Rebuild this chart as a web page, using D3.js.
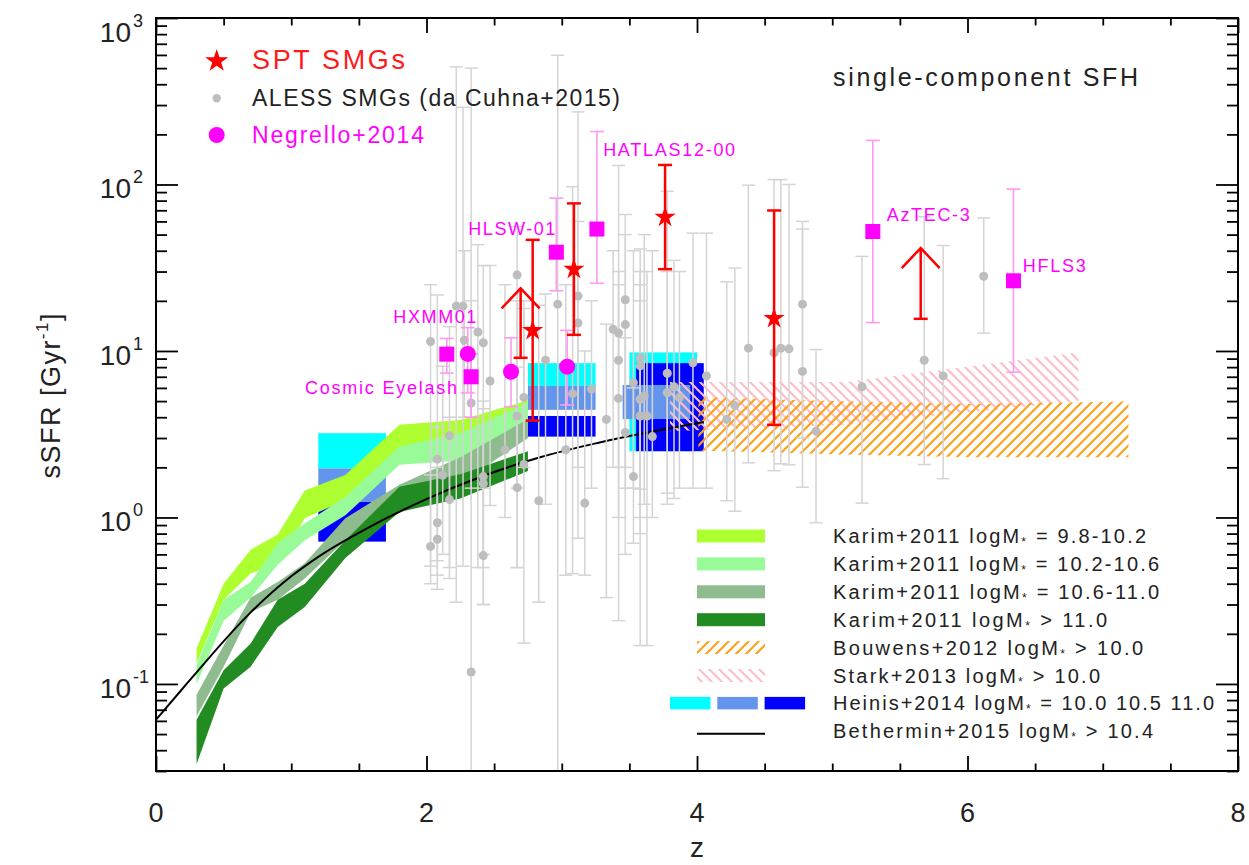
<!DOCTYPE html>
<html>
<head>
<meta charset="utf-8">
<script src="https://cdn.jsdelivr.net/npm/d3@7"></script>
<style>
body { margin: 0; background: #fff; }
svg { display: block; font-family: "Liberation Sans", Arial, Helvetica, sans-serif; }
</style>
</head>
<body>
<svg id="chart"></svg>
<script>
// ---- data ----
// Karim+2011 bands (z bin centres, lower/upper sSFR)
var karimZ = [0.3, 0.5, 0.7, 0.9, 1.1, 1.4, 1.8, 2.25, 2.75];
var karimLo1 = [0.133, 0.32, 0.46, 0.53, 0.99, 1.27, 2.6, 2.45, 4.2];
var karimHi1 = [0.164, 0.40, 0.64, 0.79, 1.45, 1.80, 3.6, 3.85, 5.05];
var karimLo2 = [0.10, 0.24, 0.33, 0.52, 0.73, 1.03, 2.07, 2.2, 3.55];
var karimHi2 = [0.13, 0.32, 0.41, 0.70, 0.92, 1.33, 2.67, 3.2, 4.9];
var karimLo3 = [0.064, 0.127, 0.27, 0.32, 0.43, 0.73, 1.16, 1.6, 3.0];
var karimHi3 = [0.086, 0.17, 0.33, 0.41, 0.53, 0.99, 1.57, 2.3, 3.9];
var karimLo4 = [0.033, 0.094, 0.127, 0.22, 0.29, 0.57, 1.08, 1.3, 1.9];
var karimHi4 = [0.061, 0.121, 0.175, 0.32, 0.40, 0.73, 1.53, 1.82, 2.5];

// Heinis+2014 boxes: left edge z, lower/upper sSFR (10.0, 10.5, 11.0)
var heinisZ0 = [1.2, 2.75, 3.5], heinisLo0 = [1.97, 6.17, 2.5], heinisHi0 = [3.21, 8.45, 9.8];
var heinisZ1 = [1.2, 2.75, 3.45], heinisLo1 = [1.245, 4.43, 3.9], heinisHi1 = [1.97, 6.17, 6.25];
var heinisZ2 = [1.2, 2.75, 3.55], heinisLo2 = [0.716, 3.06, 2.5], heinisHi2 = [1.245, 4.07, 8.45];
var heinisWidth = 0.5;

// Bouwens+2012 and Stark+2013 hatched regions
var bouwensZ = [4.01, 5.0, 6.0, 7.19], bouwensLo = [2.52, 2.4, 2.3, 2.3], bouwensHi = [5.3, 5.0, 4.8, 4.97];
var starkZ = [3.8, 5.1, 6.82], starkLo = [3.3, 3.6, 5.0], starkHi = [6.5, 6.5, 9.8];

// Bethermin+2015 model
var bethZ = [0, 0.18, 0.3, 0.7, 1.0, 1.2, 1.56, 2.0, 2.4, 2.84, 3.28, 4.05];
var bethS = [0.061, 0.0904, 0.1175, 0.269, 0.443, 0.58, 0.86, 1.29, 1.75, 2.3, 2.82, 3.74];

// ALESS SMGs (da Cunha+2015)
var alessZ = [2.03, 2.08, 2.08, 2.08, 2.03, 2.12, 2.17, 2.17, 2.22, 2.27,
  2.28, 2.33, 2.33, 2.38, 2.42, 2.42, 2.42, 2.42, 2.47, 2.58,
  2.67, 2.67, 2.72, 2.72, 2.83, 2.88, 2.97, 3.03, 3.08, 3.12,
  3.12, 3.17, 3.22, 3.33, 3.38, 3.42, 3.42, 3.42, 3.47, 3.47,
  3.53, 3.53, 3.58, 3.58, 3.58, 3.61, 3.58, 3.63, 3.67, 3.78,
  3.78, 3.83, 3.97, 4.07, 4.22, 4.28, 4.38, 4.57, 4.62, 4.68,
  4.78, 4.78, 4.88, 5.22, 5.68, 5.82, 6.12, 3.87, 3.47, 2.67];
var alessS = [11.4, 2.24, 0.93, 0.74, 0.67, 1.79, 3.1, 1.28, 18.6, 18.6,
  11.6, 4.87, 0.118, 13.0, 11.2, 1.76, 1.60, 0.59, 6.6, 2.55,
  28.6, 1.51, 2.08, 5.26, 1.26, 8.8, 19.1, 2.55, 5.54, 21.4,
  14.7, 1.22, 5.9, 3.88, 13.5, 12.8, 8.8, 5.19, 20.3, 14.4,
  1.76, 6.46, 9.1, 8.15, 5.13, 5.36, 4.07, 4.07, 3.06, 7.35,
  5.61, 6.1, 8.5, 7.08, 3.88, 4.71, 10.4, 9.75, 10.4, 10.3,
  19.1, 7.54, 3.3, 6.1, 8.8, 7.08, 28.1, 5.25, 3.24, 4.07];
var alessLo = [0.51, 0.37, 0.55, 0.45, 0.40, 0.6, 0.43, 0.5, 0.31, 0.51,
  4.0, 1.5, 0.01, 0.5, 0.30, 0.6, 0.5, 0.3, 1.18, 1.0,
  0.5, 0.5, 0.176, 2.0, 0.31, 1.2, 0.01, 0.45, 0.46, 0.75,
  2.0, 0.45, 1.5, 0.33, 2.0, 0.24, 2.0, 1.0, 1.5, 2.0,
  0.7, 1.5, 1.48, 1.0, 0.17, 1.2, 0.8, 0.17, 1.0, 1.4,
  1.2, 1.3, 1.5, 1.5, 1.26, 1.09, 2.13, 1.91, 2.1, 2.07,
  3.0, 1.52, 0.93, 1.22, 2.08, 1.71, 12.8, 1.5, 0.6, 1.5];
var alessHi = [25, 21.7, 3.5, 2.0, 1.8, 8.1, 14, 4.0, 509, 291,
  40, 20, 500, 43.5, 32.6, 5, 4.5, 1.5, 32.6, 25,
  56, 8, 20, 18, 18.8, 22, 598, 25, 97, 273,
  60, 10, 20, 14.5, 40, 130, 30, 25, 66, 50,
  6, 40, 41, 30, 25, 50, 20, 30, 40, 91,
  30, 35, 51, 51, 26, 31.5, 99, 107, 107, 100,
  60, 54, 10.2, 37, 64, 43, 63, 30, 12, 20];

// Negrello+2014 lensed SMGs (squares and circles)
var negSqZ = [2.15, 2.33, 2.96, 3.26, 5.30, 6.34];
var negSqS = [9.57, 7.0, 39.2, 54, 52.2, 26.4];
var negSqLo = [7.36, 4.0, 23, 25.5, 14.8, 7.46];
var negSqHi = [11.9, 9.6, 82.8, 208, 184, 93.8];
var negCiZ = [2.305, 2.625, 3.04];
var negCiS = [9.6, 7.5, 8.05];
var negCiLo = [5.6, 4.63, 4.74];
var negCiHi = [13.8, 12.0, 13.3];
var nameText = ["HATLAS12-00", "HLSW-01", "HXMM01", "Cosmic Eyelash", "AzTEC-3", "HFLS3"];
var nameZ = [3.306, 2.309, 1.755, 1.102, 5.403, 6.408];
var nameS = [149, 49.9, 14.8, 5.5, 60, 29.8];
var nameLen = [132, 87, 83, 152, 83, 63];

// SPT SMGs
var sptZ = [2.785, 3.09, 3.764, 4.57];
var sptS = [13.3, 31, 63.7, 15.7];
var sptLo = [3.82, 12.5, 31, 3.6];
var sptHi = [46.5, 77, 131, 69.8];
var limZ = [2.696, 5.654];
var limBase = [9.1, 15.6];
var limHead = [23.8, 41.5];

// axes
var xMajorTicks = [0, 2, 4, 6, 8];
var xMinorTicks = [0.5, 1, 1.5, 2.5, 3, 3.5, 4.5, 5, 5.5, 6.5, 7, 7.5];
var yMajorTicks = [0.1, 1, 10, 100, 1000];
var yExponents = ["-1", "0", "1", "2", "3"];

// legend
var legendText = [
  ["Karim+2011 logM", " = 9.8-10.2"],
  ["Karim+2011 logM", " = 10.2-10.6"],
  ["Karim+2011 logM", " = 10.6-11.0"],
  ["Karim+2011 logM", " > 11.0"],
  ["Bouwens+2012 logM", " > 10.0"],
  ["Stark+2013 logM", " > 10.0"],
  ["Heinis+2014 logM", " = 10.0 10.5 11.0"],
  ["Bethermin+2015 logM", " > 10.4"]];
var legendLen = [313, 326, 326, 274, 310, 267, 381, 320];

// ---- drawing ----
var margin = {top: 18, right: 11, bottom: 94, left: 156},
	width = 1249 - margin.left - margin.right,
	height = 865 - margin.top - margin.bottom;

var x = d3.scaleLinear().domain([0, 8]).range([0, width]);
var y = d3.scaleLog().domain([0.03, 1000]).range([height, 0]);

var svg = d3.select("#chart").attr("width", 1249).attr("height", 865);
var defs = svg.append("defs");
defs.append("clipPath").attr("id", "plotclip")
	.append("rect").attr("width", width).attr("height", height);

var po = defs.append("pattern").attr("id", "hatchOrange")
	.attr("patternUnits", "userSpaceOnUse").attr("width", 10).attr("height", 10);
po.append("path").attr("d", "M-2,2L2,-2M0,10L10,0M8,12L12,8")
	.attr("stroke", "#ffa21a").attr("stroke-width", 2.2);
var pp = defs.append("pattern").attr("id", "hatchPink")
	.attr("patternUnits", "userSpaceOnUse").attr("width", 10).attr("height", 10);
pp.append("path").attr("d", "M-2,8L2,12M0,0L10,10M8,-2L12,2")
	.attr("stroke", "#ffbcc6").attr("stroke-width", 2);

var g = svg.append("g")
	.attr("transform", "translate(" + margin.left + "," + margin.top + ")");
var plot = g.append("g").attr("clip-path", "url(#plotclip)");

// Heinis boxes
var heinis = [
	{z: heinisZ0, lo: heinisLo0, hi: heinisHi0, color: "#00ffff"},
	{z: heinisZ2, lo: heinisLo2, hi: heinisHi2, color: "#0000ff"},
	{z: heinisZ1, lo: heinisLo1, hi: heinisHi1, color: "#6495ed"}];
heinis.forEach(function(h) {
	plot.selectAll(null)
		.data(d3.range(h.z.length))
		.enter().append("rect")
		.attr("x", function(i) { return x(h.z[i]); })
		.attr("width", function(i) { return x(h.z[i] + heinisWidth) - x(h.z[i]); })
		.attr("y", function(i) { return y(h.hi[i]); })
		.attr("height", function(i) { return y(h.lo[i]) - y(h.hi[i]); })
		.attr("fill", h.color);
});

// Karim bands
var band = d3.area()
	.x(function(d) { return x(d[0]); })
	.y0(function(d) { return y(d[1]); })
	.y1(function(d) { return y(d[2]); });
var karim = [
	{lo: karimLo1, hi: karimHi1, color: "#adff2f"},
	{lo: karimLo2, hi: karimHi2, color: "#98fb98"},
	{lo: karimLo3, hi: karimHi3, color: "#8fbc8f"},
	{lo: karimLo4, hi: karimHi4, color: "#228b22"}];
karim.forEach(function(k) {
	plot.append("path")
		.datum(karimZ.map(function(z, i) { return [z, k.lo[i], k.hi[i]]; }))
		.attr("fill", k.color)
		.attr("d", band);
});

// hatched regions
plot.append("path")
	.datum(starkZ.map(function(z, i) { return [z, starkLo[i], starkHi[i]]; }))
	.attr("fill", "url(#hatchPink)")
	.attr("d", band);
plot.append("path")
	.datum(bouwensZ.map(function(z, i) { return [z, bouwensLo[i], bouwensHi[i]]; }))
	.attr("fill", "url(#hatchOrange)")
	.attr("d", band);

// Bethermin model
plot.append("path")
	.datum(bethZ.map(function(z, i) { return [z, bethS[i]]; }))
	.attr("fill", "none")
	.attr("stroke", "#000")
	.attr("stroke-width", 2)
	.attr("d", d3.line()
		.curve(d3.curveMonotoneX)
		.x(function(d) { return x(d[0]); })
		.y(function(d) { return y(d[1]); }));

// error bar helper
function errorBars(sel, zs, lo, hi, cap, color, w) {
	var eg = sel.append("g").attr("stroke", color).attr("stroke-width", w).attr("fill", "none");
	zs.forEach(function(z, i) {
		var px = x(z);
		eg.append("line").attr("x1", px).attr("x2", px)
			.attr("y1", y(lo[i])).attr("y2", y(hi[i]));
		eg.append("line").attr("x1", px - cap).attr("x2", px + cap)
			.attr("y1", y(lo[i])).attr("y2", y(lo[i]));
		eg.append("line").attr("x1", px - cap).attr("x2", px + cap)
			.attr("y1", y(hi[i])).attr("y2", y(hi[i]));
	});
}

// ALESS
errorBars(plot, alessZ, alessLo, alessHi, 6.5, "#d4d4d4", 1.5);
plot.append("g").selectAll("circle")
	.data(alessZ)
	.enter().append("circle")
	.attr("cx", function(d) { return x(d); })
	.attr("cy", function(d, i) { return y(alessS[i]); })
	.attr("r", 4.5)
	.attr("fill", "#bdbdbd");

// Negrello
errorBars(plot, negSqZ, negSqLo, negSqHi, 7, "#ff99f2", 1.6);
errorBars(plot, negCiZ, negCiLo, negCiHi, 7, "#ff99f2", 1.6);
plot.append("g").selectAll("rect")
	.data(negSqZ)
	.enter().append("rect")
	.attr("x", function(d) { return x(d) - 7.5; })
	.attr("y", function(d, i) { return y(negSqS[i]) - 7.5; })
	.attr("width", 15).attr("height", 15)
	.attr("fill", "#ff00ff");
plot.append("g").selectAll("circle")
	.data(negCiZ)
	.enter().append("circle")
	.attr("cx", function(d) { return x(d); })
	.attr("cy", function(d, i) { return y(negCiS[i]); })
	.attr("r", 8)
	.attr("fill", "#ff00ff");
g.append("g").selectAll("text")
	.data(nameText)
	.enter().append("text")
	.attr("x", function(d, i) { return x(nameZ[i]); })
	.attr("y", function(d, i) { return y(nameS[i]); })
	.attr("textLength", function(d, i) { return nameLen[i]; })
	.attr("lengthAdjust", "spacing")
	.style("font-size", "18px")
	.attr("fill", "#ff00ff")
	.text(function(d) { return d; });

// SPT
errorBars(plot, sptZ, sptLo, sptHi, 7, "#ff0000", 2.5);
var lg = plot.append("g").attr("stroke", "#ff0000").attr("stroke-width", 2.5).attr("fill", "none");
limZ.forEach(function(z, i) {
	var px = x(z), yb = y(limBase[i]), yh = y(limHead[i]);
	lg.append("line").attr("x1", px).attr("x2", px).attr("y1", yb).attr("y2", yh);
	lg.append("line").attr("x1", px - 7).attr("x2", px + 7).attr("y1", yb).attr("y2", yb);
	lg.append("path").attr("d", "M" + (px - 19) + "," + (yh + 20) + "L" + px + "," + yh + "L" + (px + 19) + "," + (yh + 20));
});
var star = d3.symbol().type(d3.symbolStar).size(140);
plot.append("g").selectAll("path")
	.data(sptZ)
	.enter().append("path")
	.attr("transform", function(d, i) { return "translate(" + x(d) + "," + y(sptS[i]) + ")"; })
	.attr("d", star)
	.attr("fill", "#ff0000");

// ---- axes ----
function styleAxis(a) {
	a.select(".domain").remove();
	a.selectAll("line").attr("stroke", "#000").attr("stroke-width", 1.8);
}
g.append("g").attr("transform", "translate(0," + height + ")")
	.call(d3.axisBottom(x).tickValues(xMajorTicks).tickSize(-15).tickSizeOuter(0).tickFormat(""))
	.call(styleAxis);
g.append("g").attr("transform", "translate(0," + height + ")")
	.call(d3.axisBottom(x).tickValues(xMinorTicks).tickSize(-7.5).tickSizeOuter(0).tickFormat(""))
	.call(styleAxis);
g.append("g")
	.call(d3.axisTop(x).tickValues(xMajorTicks).tickSize(-15).tickSizeOuter(0).tickFormat(""))
	.call(styleAxis);
g.append("g")
	.call(d3.axisTop(x).tickValues(xMinorTicks).tickSize(-7.5).tickSizeOuter(0).tickFormat(""))
	.call(styleAxis);

var yMinorTicks = [];
[0.01, 0.1, 1, 10, 100].forEach(function(dec) {
	for (var k = 2; k <= 9; k++) {
		var v = dec * k;
		if (v >= 0.03 && v < 1000) yMinorTicks.push(v);
	}
});
g.append("g")
	.call(d3.axisLeft(y).tickValues(yMajorTicks).tickSize(-22).tickSizeOuter(0).tickFormat(""))
	.call(styleAxis);
g.append("g")
	.call(d3.axisLeft(y).tickValues(yMinorTicks).tickSize(-11).tickSizeOuter(0).tickFormat(""))
	.call(styleAxis);
g.append("g").attr("transform", "translate(" + width + ",0)")
	.call(d3.axisRight(y).tickValues(yMajorTicks).tickSize(-22).tickSizeOuter(0).tickFormat(""))
	.call(styleAxis);
g.append("g").attr("transform", "translate(" + width + ",0)")
	.call(d3.axisRight(y).tickValues(yMinorTicks).tickSize(-11).tickSizeOuter(0).tickFormat(""))
	.call(styleAxis);

g.append("rect")
	.attr("width", width).attr("height", height)
	.attr("fill", "none").attr("stroke", "#000").attr("stroke-width", 2);

// tick labels
g.append("g").selectAll("text")
	.data(xMajorTicks)
	.enter().append("text")
	.attr("x", function(d) { return x(d); })
	.attr("y", height + 51)
	.attr("text-anchor", "middle")
	.style("font-size", "27px")
	.attr("fill", "#222")
	.text(function(d) { return d; });

var yl = g.append("g").selectAll("g")
	.data(yMajorTicks)
	.enter().append("g")
	.attr("transform", function(d) { return "translate(0," + Math.max(y(d) + 14, 24) + ")"; });
yl.append("text")
	.attr("x", -25)
	.attr("text-anchor", "end")
	.style("font-size", "28px")
	.attr("fill", "#222")
	.text("10");
yl.append("text")
	.attr("x", -23)
	.attr("y", -15)
	.style("font-size", "18px")
	.attr("fill", "#222")
	.text(function(d, i) { return yExponents[i]; });

// axis titles
g.append("text")
	.attr("x", width / 2)
	.attr("y", height + 86)
	.attr("text-anchor", "middle")
	.style("font-size", "28px")
	.attr("fill", "#222")
	.text("z");
var yt = svg.append("text")
	.attr("transform", "translate(60,396) rotate(-90)")
	.attr("text-anchor", "middle")
	.attr("textLength", 165)
	.attr("lengthAdjust", "spacing")
	.style("font-size", "27px")
	.attr("fill", "#222");
yt.append("tspan").text("sSFR  [Gyr");
yt.append("tspan").attr("dy", -12).style("font-size", "17px").text("-1");
yt.append("tspan").attr("dy", 12).text("]");

// ---- legends ----
svg.append("path")
	.attr("transform", "translate(216.7,61)")
	.attr("d", d3.symbol().type(d3.symbolStar).size(165))
	.attr("fill", "#ff0000");
svg.append("text").attr("x", 252).attr("y", 68.5)
	.attr("textLength", 153).attr("lengthAdjust", "spacing")
	.style("font-size", "27px").attr("fill", "#ff1a1a").text("SPT SMGs");
svg.append("circle").attr("cx", 216.7).attr("cy", 98.3).attr("r", 4.2).attr("fill", "#bdbdbd");
svg.append("text").attr("x", 252).attr("y", 106)
	.attr("textLength", 368).attr("lengthAdjust", "spacing")
	.style("font-size", "23px").attr("fill", "#222").text("ALESS SMGs (da Cuhna+2015)");
svg.append("circle").attr("cx", 216.7).attr("cy", 135).attr("r", 8).attr("fill", "#ff00ff");
svg.append("text").attr("x", 252).attr("y", 142.7)
	.attr("textLength", 172).attr("lengthAdjust", "spacing")
	.style("font-size", "23px").attr("fill", "#ff00ff").text("Negrello+2014");
svg.append("text").attr("x", 833).attr("y", 85.5)
	.attr("textLength", 305).attr("lengthAdjust", "spacing")
	.style("font-size", "25px").attr("fill", "#222").text("single-component SFH");

var rowY = 543, rowStep = 27.9;
var swFill = ["#adff2f", "#98fb98", "#8fbc8f", "#228b22", "url(#hatchOrange)", "url(#hatchPink)"];
swFill.forEach(function(f, i) {
	svg.append("rect")
		.attr("x", 697).attr("y", rowY + i * rowStep - 13.5)
		.attr("width", 68).attr("height", 13)
		.attr("fill", f);
});
["#00ffff", "#6495ed", "#0000ff"].forEach(function(c, i) {
	svg.append("rect")
		.attr("x", 670 + i * 47.3).attr("y", rowY + 6 * rowStep - 13.5)
		.attr("width", 40.5).attr("height", 12.5)
		.attr("fill", c);
});
svg.append("line")
	.attr("x1", 697).attr("x2", 765)
	.attr("y1", rowY + 7 * rowStep - 4.5).attr("y2", rowY + 7 * rowStep - 4.5)
	.attr("stroke", "#000").attr("stroke-width", 2);
legendText.forEach(function(t, i) {
	var tx = svg.append("text")
		.attr("x", 833).attr("y", rowY + i * rowStep)
		.attr("textLength", legendLen[i]).attr("lengthAdjust", "spacing")
		.style("font-size", "20px").attr("fill", "#222");
	tx.append("tspan").text(t[0]);
	tx.append("tspan").attr("dy", 3).style("font-size", "12px").text("*");
	tx.append("tspan").attr("dy", -3).text(t[1]);
});
</script>
</body>
</html>
